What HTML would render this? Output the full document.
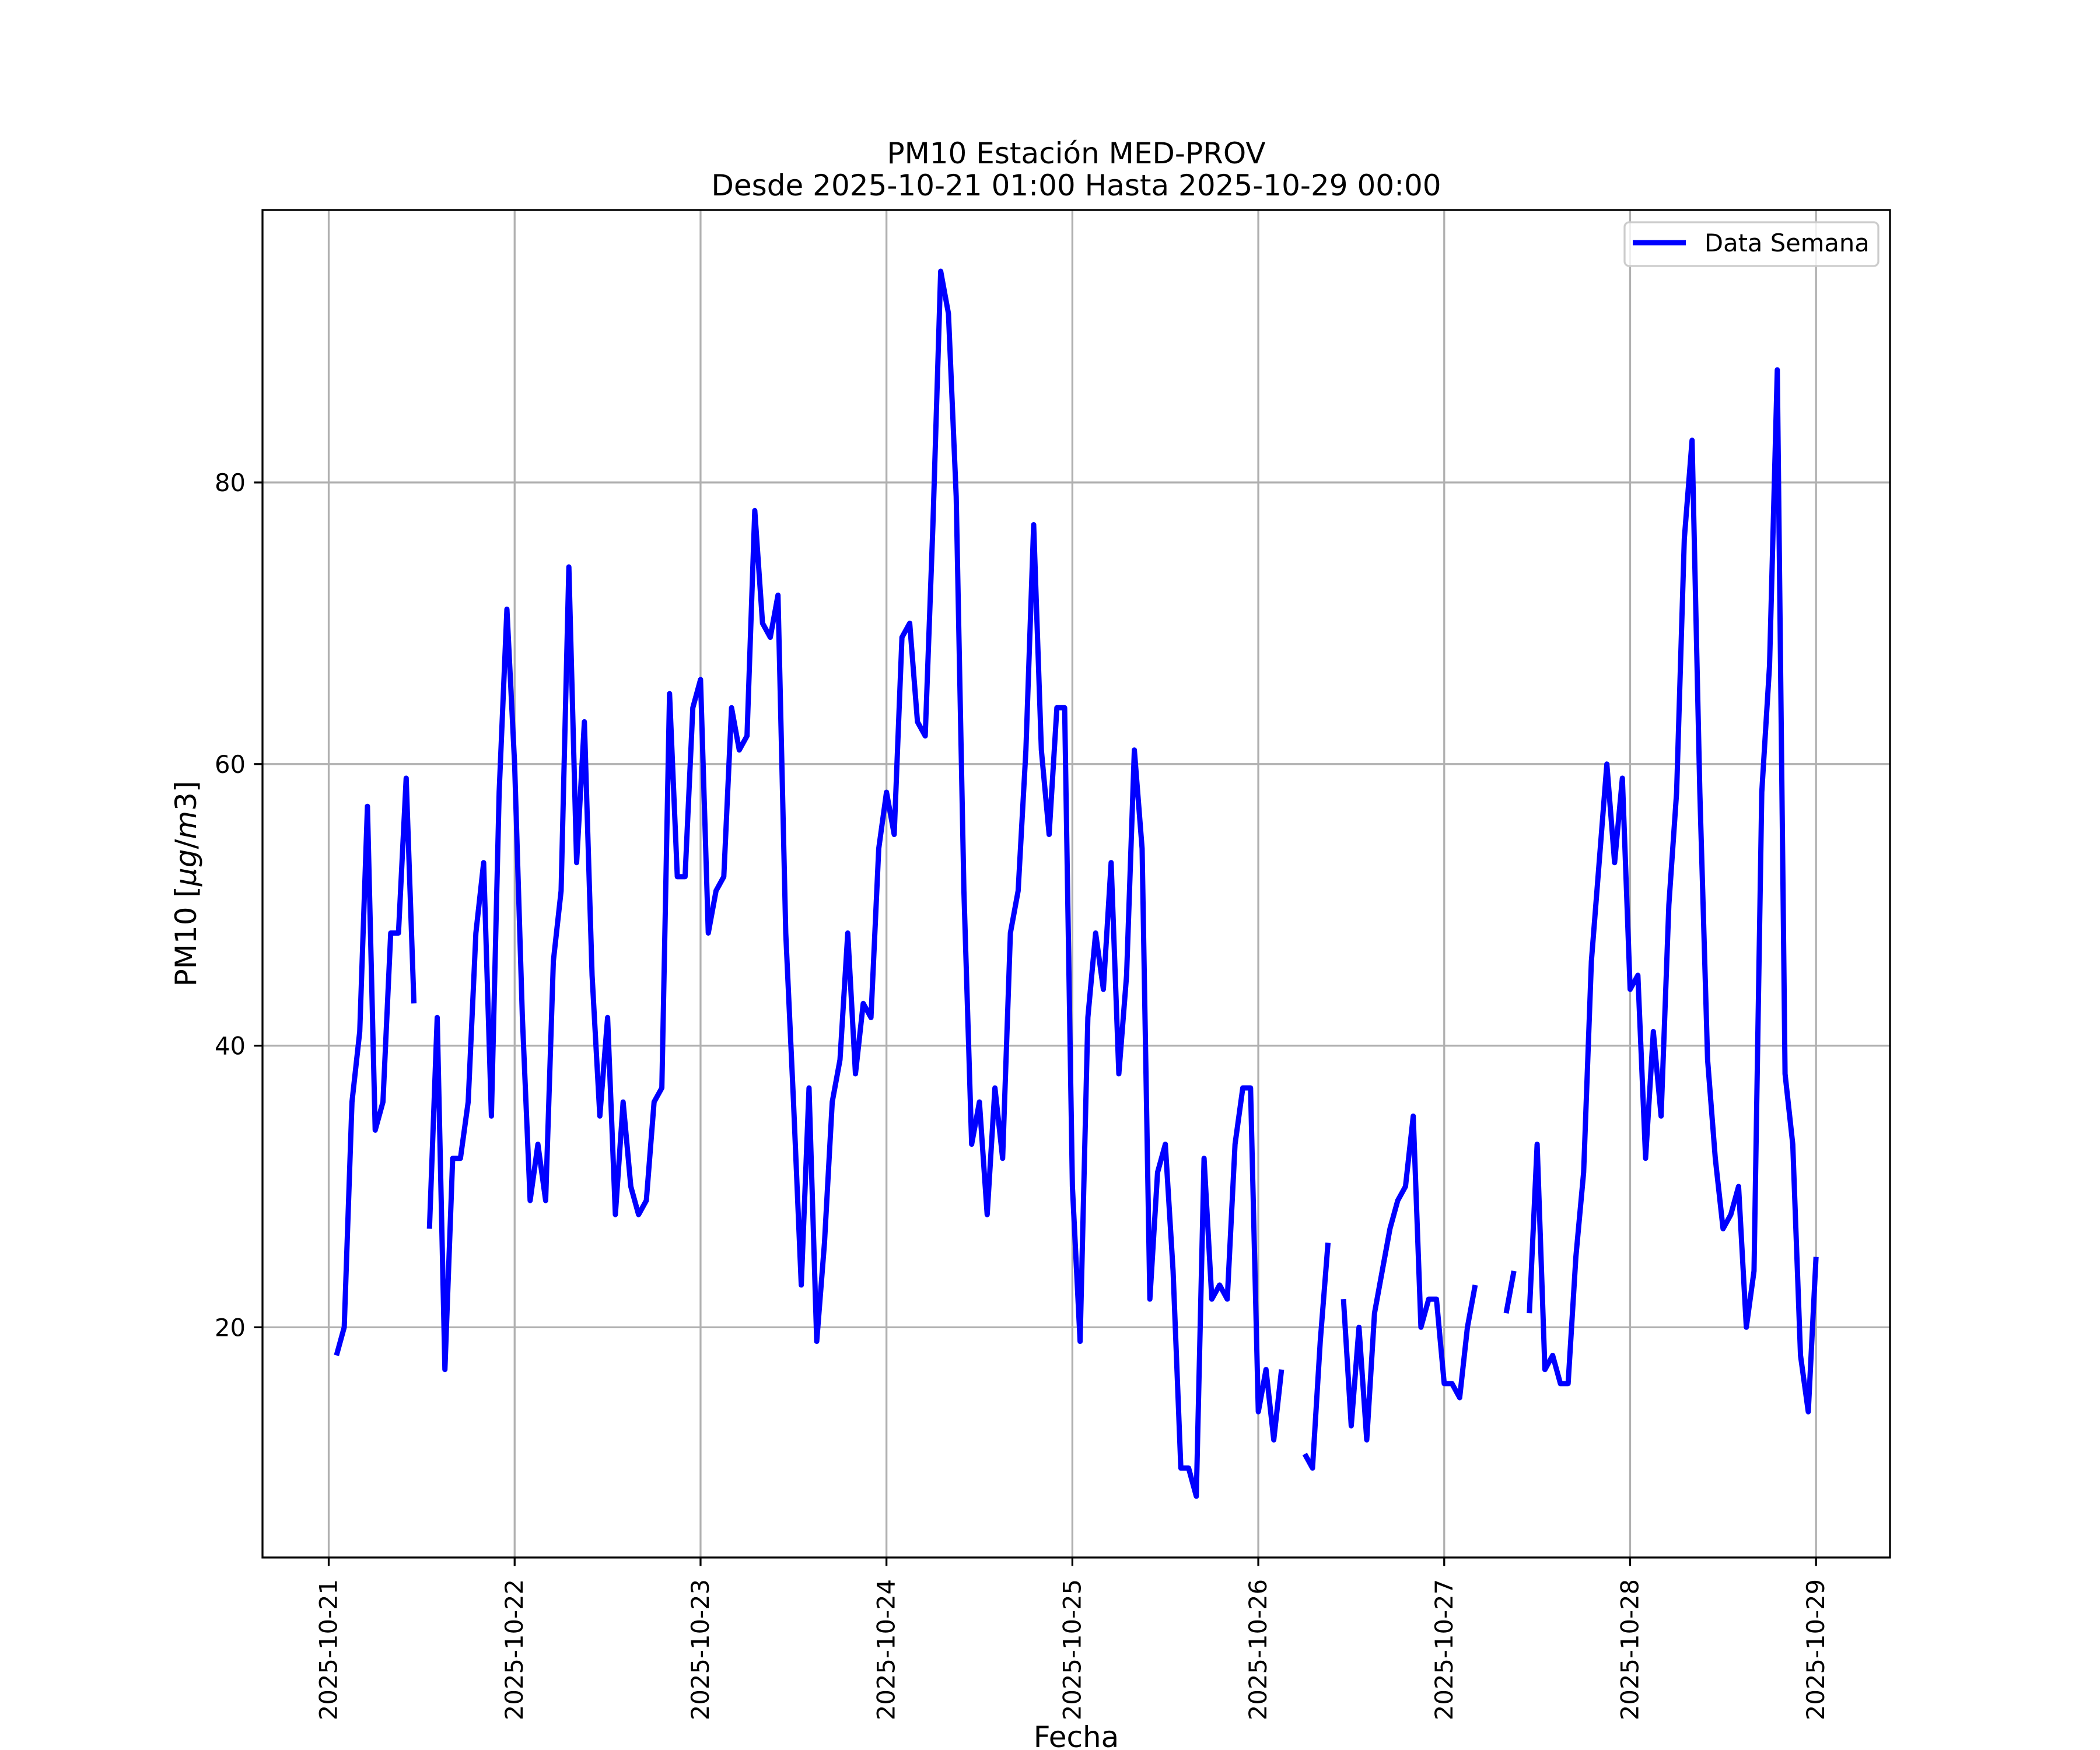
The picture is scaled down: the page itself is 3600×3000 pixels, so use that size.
<!DOCTYPE html>
<html><head><meta charset="utf-8">
<style>
html,body{margin:0;padding:0;background:#fff;}
svg{display:block;font-family:"DejaVu Sans","Liberation Sans",sans-serif;}
</style></head>
<body>
<svg id="chart" width="3600" height="3000" viewBox="0 0 3600 3000" xmlns="http://www.w3.org/2000/svg">
<rect x="0" y="0" width="3600" height="3000" fill="#fff"/>
<g id="grid"></g>
<g id="series"></g>
<rect x="450" y="360" width="2790" height="2310" fill="none" stroke="#000" stroke-width="3.3"/>
<g id="xticks"></g>
<g id="yticks"></g>
<text x="1845" y="280" font-size="50" text-anchor="middle">PM10 Estación MED-PROV</text>
<text x="1845" y="335" font-size="50" text-anchor="middle">Desde 2025-10-21 01:00 Hasta 2025-10-29 00:00</text>
<text x="1845" y="2995" font-size="50" text-anchor="middle">Fecha</text>
<text transform="translate(336,1515) rotate(-90)" font-size="50" text-anchor="middle">PM10 [<tspan font-style="italic">μg</tspan>/<tspan font-style="italic">m</tspan>3]</text>
<g>
<rect x="2785" y="381" width="435" height="75" rx="8" fill="#fff" fill-opacity="0.8" stroke="#cccccc" stroke-width="3.3"/>
<line x1="2799" y1="416" x2="2890" y2="416" stroke="#0000ff" stroke-width="9"/>
<text x="2922" y="431" font-size="41.67">Data Semana</text>
</g>
</svg>
<script>
// hourly values, starting 2025-10-21 01:00 (hour index 1) through 2025-10-29 00:00 (hour 192)
const startHour = 1;
const pm10Values = [
18,20,36,41,57,34,36,48,48,59,43,null,27,42,17,32,32,36,48,53,35,58,71,60,
42,29,33,29,46,51,74,53,63,45,35,42,28,36,30,28,29,36,37,65,52,52,64,66,
48,51,52,64,61,62,78,70,69,72,48,36,23,37,19,26,36,39,48,38,43,42,54,58,
55,69,70,63,62,77,95,92,79,51,33,36,28,37,32,48,51,61,77,61,55,64,64,30,
19,42,48,44,53,38,45,61,54,22,31,33,24,10,10,8,32,22,23,22,33,37,37,14,
17,12,17,null,null,11,10,19,26,null,22,13,20,12,21,24,27,29,30,35,20,22,22,16,
16,15,20,23,null,null,null,21,24,null,21,33,17,18,16,16,25,31,46,53,60,53,59,44,
45,32,41,35,50,58,76,83,58,39,32,27,28,30,20,24,58,67,88,38,33,18,14,25
];
const xTickLabels = ["2025-10-21","2025-10-22","2025-10-23","2025-10-24","2025-10-25","2025-10-26","2025-10-27","2025-10-28","2025-10-29"];
const yTickValues = [20,40,60,80];

const NS = "http://www.w3.org/2000/svg";
const AX = {l:450, r:3240, t:360, b:2670};
const nPts = pm10Values.length;
const xFirst = startHour/24, xLast = (startHour+nPts-1)/24;
const xm = (xLast-xFirst)*0.05;
const xMin = xFirst-xm, xMax = xLast+xm;
const valid = pm10Values.filter(v=>v!==null);
const vMin = Math.min(...valid), vMax = Math.max(...valid);
const ym = (vMax-vMin)*0.05;
const yMin = vMin-ym, yMax = vMax+ym;
function xScale(days){ return AX.l + (days-xMin)/(xMax-xMin)*(AX.r-AX.l); }
function yScale(v){ return AX.b - (v-yMin)/(yMax-yMin)*(AX.b-AX.t); }
function mk(tag, attrs, parent){ const e=document.createElementNS(NS,tag); for(const k in attrs) e.setAttribute(k,attrs[k]); parent.appendChild(e); return e; }

const grid = document.getElementById('grid');
const xt = document.getElementById('xticks');
const yt = document.getElementById('yticks');

xTickLabels.forEach((lab,i)=>{
  const x = xScale(i);
  const gl = mk('line',{x1:x,y1:AX.t,x2:x,y2:AX.b,stroke:'#b0b0b0','stroke-width':3.3},grid);
  
  
  const tk = mk('line',{x1:x,y1:AX.b,x2:x,y2:AX.b+14.6,stroke:'#000','stroke-width':3.3},xt);
  
  
  const t = mk('text',{transform:`translate(${x+14},${AX.b+37}) rotate(-90)`,'font-size':41.67,'text-anchor':'end'},xt);
  t.textContent = lab;
  
  
});

yTickValues.forEach(v=>{
  const y = yScale(v);
  const gl = mk('line',{x1:AX.l,y1:y,x2:AX.r,y2:y,stroke:'#b0b0b0','stroke-width':3.3},grid);
  
  
  const tk = mk('line',{x1:AX.l-14.6,y1:y,x2:AX.l,y2:y,stroke:'#000','stroke-width':3.3},yt);
  
  
  const t = mk('text',{x:AX.l-29,y:y+15,'font-size':41.67,'text-anchor':'end'},yt);
  t.textContent = String(v);
  
  
});

const series = document.getElementById('series');
let d = '', pen = false;
pm10Values.forEach((v,i)=>{
  if(v===null){ pen=false; return; }
  const x = xScale((startHour+i)/24), y = yScale(v);
  d += (pen?'L':'M') + x.toFixed(1) + ' ' + y.toFixed(1) + ' ';
  pen = true;
});
const path = mk('path',{d:d,fill:'none',stroke:'#0000ff','stroke-width':9,'stroke-linejoin':'round','stroke-linecap':'butt'},series);


</script>
</body></html>
